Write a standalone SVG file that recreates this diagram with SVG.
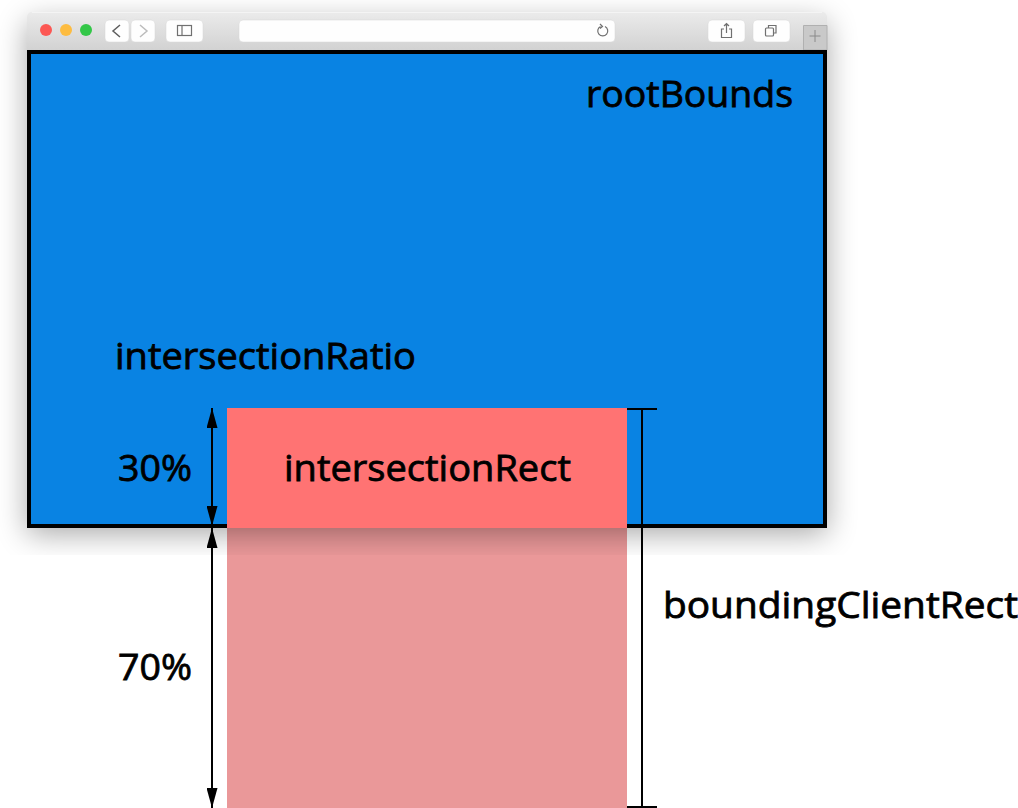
<svg xmlns="http://www.w3.org/2000/svg" width="1018" height="808" viewBox="0 0 1018 808">
<style>
text{font-family:"Open Sans","Noto Sans","Liberation Sans",sans-serif;font-size:37px;fill:#000;stroke:#000;stroke-width:.8px}
.btn{fill:#fefefe;stroke:#d4d4d4;stroke-width:.5}
.ic{fill:none;stroke:#707070;stroke-width:1.2}
.ln{stroke:#000;stroke-width:2;fill:none}
</style>
<defs>
<linearGradient id="bar" x1="0" y1="0" x2="0" y2="1"><stop offset="0" stop-color="#ebebeb"/><stop offset="1" stop-color="#d2d2d2"/></linearGradient>
<filter id="blur" x="-15%" y="-20%" width="130%" height="140%"><feGaussianBlur stdDeviation="15"/></filter>
<clipPath id="shadowClip"><rect x="0" y="0" width="860" height="555"/></clipPath>
<marker id="head" viewBox="0 0 20 11" refX="20" refY="5.5" markerWidth="20" markerHeight="11" markerUnits="userSpaceOnUse" orient="auto-start-reverse"><path d="M0 0L20 5.500L0 11Z" fill="#000"/></marker>
</defs>
<rect id="overflow" x="227" y="528" width="400" height="280" fill="#ea9899"/>
<g clip-path="url(#shadowClip)"><rect x="27" y="22" width="800" height="512" fill="#000" opacity=".34" filter="url(#blur)"/></g>
<g id="browser">
<path d="M27 50V17a5 5 0 0 1 5-5H822a5 5 0 0 1 5 5V50Z" fill="url(#bar)"/>
<path d="M32 12.500H822" stroke="#f4f4f4" fill="none"/>
<circle cx="46" cy="30" r="6" fill="#fc5753"/><circle cx="66" cy="30" r="6" fill="#fdbc40"/><circle cx="86" cy="30" r="6" fill="#33c748"/>
<rect class="btn" x="105" y="20" width="24" height="22" rx="4"/><path d="M120 25l-7 6 7 6" fill="none" stroke="#5e5e5e" stroke-width="1.5"/>
<rect class="btn" x="131" y="20" width="24" height="22" rx="4"/><path d="M140 25l7 6-7 6" fill="none" stroke="#bcbcbc" stroke-width="1.5"/>
<rect class="btn" x="166" y="20" width="37" height="22" rx="4"/><rect class="ic" x="177.500" y="25.500" width="14" height="10"/><path class="ic" d="M182 25.500v10"/>
<rect class="btn" x="239" y="20" width="376" height="22" rx="4"/>
<path class="ic" d="M600.500 26.500a5 5 0 1 0 4.500 0M600 24l2.500 2.500L600 28.500"/>
<rect class="btn" x="708" y="20" width="37" height="22" rx="4"/><path class="ic" d="M724 29h-2.500v8.500h10V29H729M726.500 33V24M724 26l2.500-2.500 2.500 2.500"/>
<rect class="btn" x="753" y="20" width="37" height="22" rx="4"/><path class="ic" d="M768.500 28v-2.500h7.500v7.500h-2"/><rect class="ic" x="765.500" y="28" width="8" height="8" rx="1"/>
<path d="M803.500 50V25.500H827V50Z" fill="#c9c9c9" stroke="#b0b0b0"/><path d="M815 30v12M809.500 36h11" stroke="#8a8a8a" fill="none"/>
</g>
<g id="rootBounds">
<rect x="29" y="52" width="796" height="474" fill="#0983e3" stroke="#000" stroke-width="4"/>
<text x="586" y="107" textLength="207" lengthAdjust="spacingAndGlyphs">rootBounds</text>
</g>
<g id="intersectionRect">
<rect x="227" y="408" width="400" height="120" fill="#ff7373"/>
<text x="284" y="481" textLength="287" lengthAdjust="spacingAndGlyphs">intersectionRect</text>
</g>
<g id="labels">
<text x="115" y="369" textLength="301" lengthAdjust="spacingAndGlyphs">intersectionRatio</text>
<text x="118" y="481" textLength="74" lengthAdjust="spacingAndGlyphs">30%</text>
<text x="118" y="680" textLength="74" lengthAdjust="spacingAndGlyphs">70%</text>
<text x="663" y="618" textLength="355" lengthAdjust="spacingAndGlyphs">boundingClientRect</text>
</g>
<g id="connectors">
<path class="ln" d="M212 408V526" marker-start="url(#head)" marker-end="url(#head)"/>
<path class="ln" d="M212 528V808" marker-start="url(#head)" marker-end="url(#head)"/>
<path class="ln" d="M642 409V807M627 409H657M627 807H657"/>
</g>
</svg>
